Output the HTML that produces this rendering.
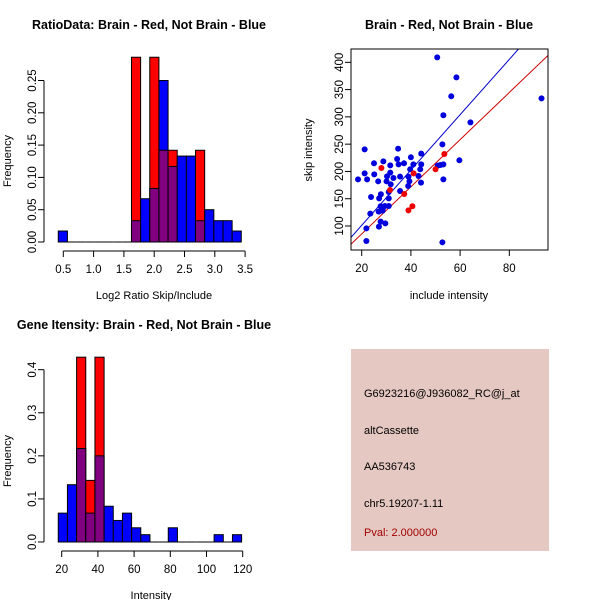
<!DOCTYPE html>
<html><head><meta charset="utf-8"><style>
body{margin:0;background:#fff}
svg{display:block;font-family:"Liberation Sans",sans-serif}
</style></head><body>
<svg id="svg" width="600" height="600" viewBox="0 0 600 600">
<rect width="600" height="600" fill="#fff"/>
<g id="p1"></g>
<g id="p2"></g>
<g id="p3"></g>
<g>
<rect x="351" y="349" width="198" height="202" fill="#e6c8c2"/>
<text x="364" y="397" font-size="11" fill="#000">G6923216@J936082_RC@j_at</text>
<text x="364" y="434" font-size="11" fill="#000">altCassette</text>
<text x="364" y="470" font-size="11" fill="#000">AA536743</text>
<text x="364" y="507" font-size="11" fill="#000">chr5.19207-1.11</text>
<text x="364" y="536" font-size="11" fill="#a00000">Pval: 2.000000</text>
</g>
</svg>
<script>
const NS="http://www.w3.org/2000/svg";
// ---- histogram 1 data ----
const h1Start=0.417, h1Width=0.151;
const h1Blue=[0.017,0,0,0,0,0,0,0,0.033,0.067,0.083,0.25,0.117,0.133,0.133,0.033,0.05,0.033,0.033,0.017];
const h1Red=[0,0,0,0,0,0,0,0,0.286,0,0.286,0.142,0.142,0,0,0.142,0,0,0,0];
const h1XTicks=[0.5,1.0,1.5,2.0,2.5,3.0,3.5];
const h1YTicks=[0,0.05,0.10,0.15,0.20,0.25];
// ---- histogram 3 data ----
const h3Start=18.1, h3Width=5.065;
const h3Blue=[0.067,0.133,0.217,0.067,0.2,0.083,0.05,0.067,0.033,0.017,0,0,0.033,0,0,0,0,0.017,0,0.017];
const h3Red=[0,0,0.429,0.143,0.429,0,0,0,0,0,0,0,0,0,0,0,0,0,0,0];
const h3XTicks=[20,40,60,80,100,120];
const h3YTicks=[0,0.1,0.2,0.3,0.4];
// ---- scatter data ----
const blueX=[50.7,58.5,56.4,93.1,53.2,64.2,21.2,34.8,44.2,52.8,40.0,34.4,25.0,28.8,35.0,37.2,41.0,44.2,59.7,31.6,21.2,25.1,31.6,18.5,22.2,30.3,30.1,26.7,32.9,35.6,39.0,39.7,43.1,43.8,44.1,50.9,52.0,53.2,53.2,38.9,39.4,31.8,35.6,31.0,27.8,27.1,31.0,23.8,29.4,27.7,31.0,28.6,28.5,26.9,23.5,27.7,29.6,27.0,21.9,21.9,52.8];
const blueY=[409,372.5,337.7,334,302.9,290,240.5,241.7,232.6,249.7,225.9,222.8,214.9,218.5,213,214.9,213,213,220.4,211.2,196.5,194.7,197.8,185.5,185.5,191,181.9,181.9,188,190.4,190.4,203.9,191.6,203.9,179.4,210.6,211.8,213,185.5,173.3,181.9,176.4,164.2,162.3,158.1,150.7,150.7,153.2,136.7,136.1,136.7,132.4,128.1,126.3,122.6,108,104.9,98.8,95.7,72.5,70.1];
const redX=[28.0,31.5,37.3,41.1,50.0,53.6,40.6,39.0];
const redY=[206.3,166,158.7,196.5,203.9,232,136.1,128.7];
const blueSlope=5.07, blueIntercept=-0.2;
const redSlope=4.32, redIntercept=-0.9;
const scXTicks=[20,40,60,80];
const scYTicks=[100,150,200,250,300,350,400];

function mk(parent,tag,attrs,name,text){
  const e=document.createElementNS(NS,tag);
  for(const k in attrs)e.setAttribute(k,attrs[k]);
  
  
  if(text!==undefined)e.textContent=text;
  parent.appendChild(e);return e;
}
function hist(g,cfg){
  const sx=v=>cfg.x0+(v-cfg.xa)*cfg.kx, sy=v=>cfg.y0-v*cfg.ky;
  cfg.blue.forEach((b,i)=>{
    const r=cfg.red[i];
    const xl=sx(cfg.start+i*cfg.width), xr=sx(cfg.start+(i+1)*cfg.width);
    const hi=Math.max(b,r), lo=Math.min(b,r);
    if(hi>0){
      const c=b>=r?'#0000ff':'#ff0000';
      mk(g,'rect',{x:xl,y:sy(hi),width:xr-xl,height:sy(0)-sy(hi),fill:c,stroke:'#000','stroke-width':1},'bar-'+i);
    }
    if(lo>0){
      mk(g,'rect',{x:xl,y:sy(lo),width:xr-xl,height:sy(0)-sy(lo),fill:'#800080',stroke:'#000','stroke-width':1},'bar-overlap-'+i);
    }
    if(hi===0){
      mk(g,'line',{x1:xl,x2:xr,y1:sy(0),y2:sy(0),stroke:'#000'},'bar-empty-'+i);
    }
  });
  const ax=cfg.axY;
  mk(g,'line',{x1:sx(cfg.xt[0]),x2:sx(cfg.xt[cfg.xt.length-1]),y1:ax,y2:ax,stroke:'#000'},'x-axis');
  cfg.xt.forEach(t=>{
    mk(g,'line',{x1:sx(t),x2:sx(t),y1:ax,y2:ax+6,stroke:'#000'},'x-tick');
    mk(g,'text',{x:sx(t),y:ax+22,'font-size':11.5,'text-anchor':'middle'},'x-tick-label',cfg.xf(t));
  });
  const yx=cfg.axX;
  mk(g,'line',{x1:yx,x2:yx,y1:sy(cfg.yt[0]),y2:sy(cfg.yt[cfg.yt.length-1]),stroke:'#000'},'y-axis');
  cfg.yt.forEach(t=>{
    mk(g,'line',{x1:yx,x2:yx-6,y1:sy(t),y2:sy(t),stroke:'#000'},'y-tick');
    mk(g,'text',{x:yx-8,y:sy(t),'font-size':11.5,'text-anchor':'middle',transform:`rotate(-90 ${yx-8} ${sy(t)})`},'y-tick-label',cfg.yf(t));
  });
  mk(g,'text',{x:cfg.tx,y:cfg.ty,'font-size':12.5,'font-weight':'bold','text-anchor':'middle'},'chart-title',cfg.title);
  mk(g,'text',{x:cfg.xlx,y:cfg.xly,'font-size':11,'text-anchor':'middle'},'x-axis-title',cfg.xlab);
  mk(g,'text',{x:11,y:cfg.yly,'font-size':11,'text-anchor':'middle',transform:`rotate(-90 11 ${cfg.yly})`},'y-axis-title','Frequency');
}
hist(document.getElementById('p1'),{start:h1Start,width:h1Width,blue:h1Blue,red:h1Red,xa:0.5,x0:63.3,kx:60.6,y0:242,ky:646,
  xt:h1XTicks,yt:h1YTicks,axY:251,axX:44,xf:t=>t.toFixed(1),yf:t=>t.toFixed(2),
  tx:149,ty:29,title:'RatioData: Brain - Red, Not Brain - Blue',xlx:154,xly:299,xlab:'Log2 Ratio Skip/Include',yly:161});
hist(document.getElementById('p3'),{start:h3Start,width:h3Width,blue:h3Blue,red:h3Red,xa:20,x0:61.7,kx:1.81,y0:542,ky:430.8,
  xt:h3XTicks,yt:h3YTicks,axY:551,axX:44,xf:t=>String(t),yf:t=>t.toFixed(1),
  tx:144,ty:329,title:'Gene Itensity: Brain - Red, Not Brain - Blue',xlx:151,xly:599,xlab:'Intensity',yly:461});

// scatter
(function(){
  const g=document.getElementById('p2');
  const L=351,R=548,T=49,B=250;
  const sx=v=>361.7+(v-20)*2.46, sy=v=>226-(v-100)*0.5456;
  const cp=mk(document.getElementById('svg'),'clipPath',{id:'clip2'},'plot-clip');
  mk(cp,'rect',{x:L,y:T,width:R-L,height:B-T},'clip-rect');
  const xmin=10,xmax=100;
  mk(g,'line',{x1:sx(xmin),y1:sy(blueSlope*xmin+blueIntercept),x2:sx(xmax),y2:sy(blueSlope*xmax+blueIntercept),stroke:'#0000cc','stroke-width':1,'clip-path':'url(#clip2)'},'blue-fit-line');
  mk(g,'line',{x1:sx(xmin),y1:sy(redSlope*xmin+redIntercept),x2:sx(xmax),y2:sy(redSlope*xmax+redIntercept),stroke:'#cc0000','stroke-width':1,'clip-path':'url(#clip2)'},'red-fit-line');
  blueX.forEach((x,i)=>mk(g,'circle',{cx:sx(x),cy:sy(blueY[i]),r:3,fill:'#0000dd'},'point-not-brain'));
  redX.forEach((x,i)=>mk(g,'circle',{cx:sx(x),cy:sy(redY[i]),r:3,fill:'#ee0000'},'point-brain'));
  mk(g,'rect',{x:L,y:T,width:R-L,height:B-T,fill:'none',stroke:'#000'},'plot-box');
  scXTicks.forEach(t=>{
    mk(g,'line',{x1:sx(t),x2:sx(t),y1:B,y2:B+6,stroke:'#000'},'x-tick');
    mk(g,'text',{x:sx(t),y:B+22,'font-size':11.5,'text-anchor':'middle'},'x-tick-label',String(t));
  });
  scYTicks.forEach(t=>{
    mk(g,'line',{x1:L,x2:L-6,y1:sy(t),y2:sy(t),stroke:'#000'},'y-tick');
    mk(g,'text',{x:L-8,y:sy(t),'font-size':11.5,'text-anchor':'middle',transform:`rotate(-90 ${L-8} ${sy(t)})`},'y-tick-label',String(t));
  });
  mk(g,'text',{x:449,y:29,'font-size':12.5,'font-weight':'bold','text-anchor':'middle'},'chart-title','Brain - Red, Not Brain - Blue');
  mk(g,'text',{x:449,y:299,'font-size':11,'text-anchor':'middle'},'x-axis-title','include intensity');
  mk(g,'text',{x:312,y:150,'font-size':11,'text-anchor':'middle',transform:'rotate(-90 312 150)'},'y-axis-title','skip intensity');
})();
</script>
</body></html>
